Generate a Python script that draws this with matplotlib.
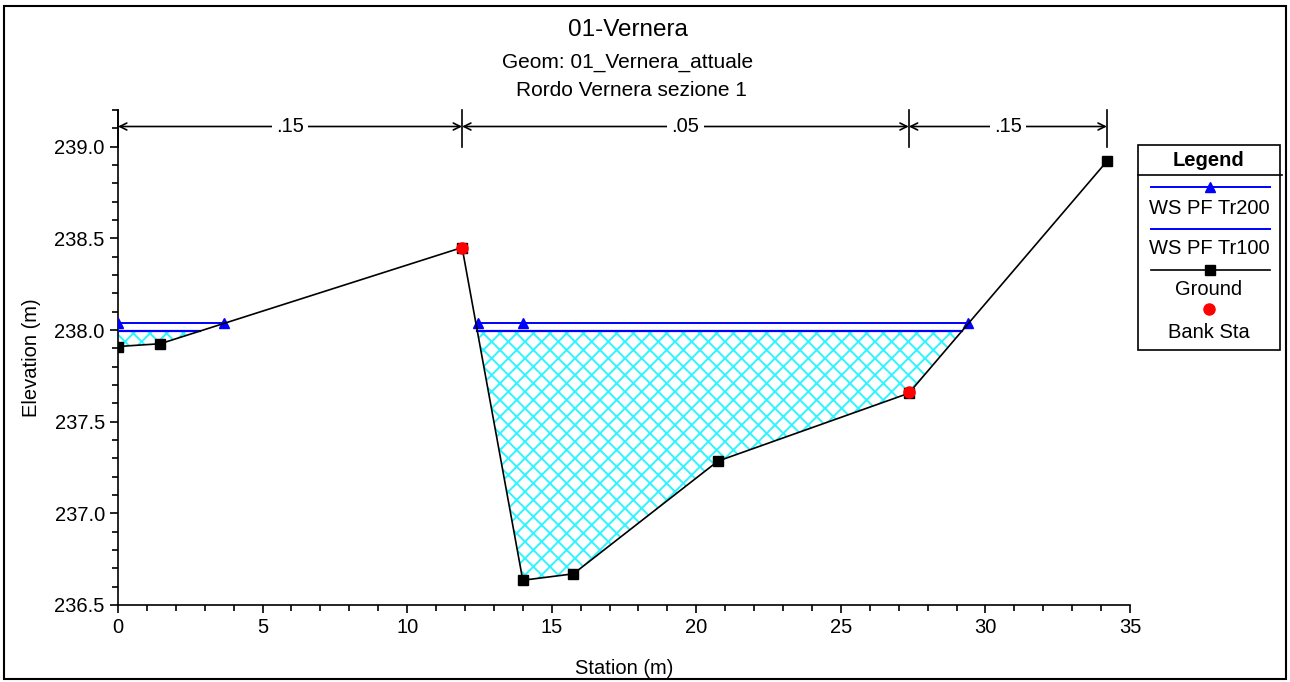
import numpy as np
import matplotlib.pyplot as plt
from matplotlib.lines import Line2D
from matplotlib.patches import Rectangle
from matplotlib.ticker import MultipleLocator, FormatStrFormatter

plt.rcParams['font.family'] = ['Liberation Sans', 'DejaVu Sans']
plt.rcParams['hatch.linewidth'] = 1.4

# ground profile
ground_x = [0.0, 1.46, 11.9, 14.0, 15.75, 20.75, 27.35, 34.2]
ground_y = [237.91, 237.925, 238.45, 236.635, 236.67, 237.285, 237.655, 238.92]

# bank stations
bank_x = [11.9, 27.35]
bank_y = [238.45, 237.66]

# water surfaces
ws200_x = [0.0, 3.67, np.nan, 12.46, 14.0, 29.41]
ws200_el = 238.04
ws100_el = 237.995

# manning's n
n_bounds = [0.0, 11.9, 27.35, 34.2]
n_vals = ['.15', '.05', '.15']

titles = ['01-Vernera', 'Geom: 01_Vernera_attuale', 'Rordo Vernera sezione 1']


def wet_segments(xs, ys, el):
    # stretches where the ground is below the water level
    segs = []
    start = xs[0] if ys[0] < el else None
    for i in range(len(xs) - 1):
        x0, x1, y0, y1 = xs[i], xs[i + 1], ys[i], ys[i + 1]
        if (y0 - el) * (y1 - el) < 0:
            xc = x0 + (el - y0) * (x1 - x0) / (y1 - y0)
            if start is None:
                start = xc
            else:
                segs.append((start, xc))
                start = None
    if start is not None:
        segs.append((start, xs[-1]))
    return segs


W, H = 1290, 682
fig = plt.figure(figsize=(W / 100, H / 100), dpi=100)
ax = fig.add_axes([118 / W, 1 - 605 / H, (1130 - 118) / W, (605 - 110) / H])

# hatched water area
gx = np.array(ground_x)
gy = np.array(ground_y)
fx = np.linspace(gx[0], gx[-1], 2000)
fy = np.interp(fx, gx, gy)
ax.fill_between(fx, fy, ws100_el, where=fy < ws100_el, interpolate=True,
                facecolor='none', edgecolor='#30f4ff', hatch='xx', linewidth=0)

# WS Tr100
for a, b in wet_segments(ground_x, ground_y, ws100_el):
    ax.plot([a, b], [ws100_el, ws100_el], color='blue', lw=1.6, zorder=3)

# WS Tr200
ax.plot(ws200_x, [ws200_el] * len(ws200_x), color='blue', lw=1.4,
        marker='^', ms=7, zorder=3)

# ground
ax.plot(ground_x, ground_y, color='black', lw=1.2, marker='s', ms=7, zorder=4)

# bank stations
ax.plot(bank_x, bank_y, ls='none', marker='o', color='red', ms=8, zorder=5)

# manning's n bars
ny = 239.11
for xb in n_bounds:
    ax.plot([xb, xb], [239.0, 239.2], color='black', lw=1.2, clip_on=False)
for i, lab in enumerate(n_vals):
    a, b = n_bounds[i], n_bounds[i + 1]
    ax.annotate('', xy=(b, ny), xytext=(a, ny),
                arrowprops=dict(arrowstyle='<->,head_length=0.5,head_width=0.25',
                                color='black', lw=1.2, shrinkA=0, shrinkB=0),
                annotation_clip=False)
    ax.text((a + b) / 2, ny, lab, ha='center', va='center', fontsize=14.5,
            bbox=dict(facecolor='white', edgecolor='none', pad=3))

ax.set_xlim(0, 35)
ax.set_ylim(236.5, 239.2)
ax.xaxis.set_major_locator(MultipleLocator(5))
ax.xaxis.set_minor_locator(MultipleLocator(1))
ax.yaxis.set_major_locator(MultipleLocator(0.5))
ax.yaxis.set_minor_locator(MultipleLocator(0.1))
ax.yaxis.set_major_formatter(FormatStrFormatter('%.1f'))
ax.spines['top'].set_visible(False)
ax.spines['right'].set_visible(False)
ax.spines['left'].set_linewidth(1.2)
ax.spines['bottom'].set_linewidth(1.2)
ax.tick_params(which='major', direction='out', length=6, width=1.2,
               labelsize=14.5)
ax.tick_params(which='minor', direction='out', length=4, width=1.2)
ax.set_xlabel('Station (m)', fontsize=14.5, labelpad=16)
ax.set_ylabel('Elevation (m)', fontsize=14.5, labelpad=10)

# titles
cx = 0.5 * (118 + 1130) / W
fig.text(cx + 0.003, 1 - 30 / H, titles[0], ha='center', va='center', fontsize=17.5)
fig.text(cx + 0.003, 1 - 62 / H, titles[1], ha='center', va='center', fontsize=15)
fig.text(cx + 0.006, 1 - 91 / H, titles[2], ha='center', va='center', fontsize=15)

# legend drawn by hand
def fx_(px):
    return px / W


def fy_(py):
    return 1 - py / H


fig.patches.append(Rectangle((fx_(1138), fy_(350)), fx_(1280) - fx_(1138),
                             fy_(145) - fy_(350), transform=fig.transFigure,
                             facecolor='white', edgecolor='black', lw=1.2))
fig.lines.append(Line2D([fx_(1138), fx_(1282)], [fy_(175), fy_(175)],
                        transform=fig.transFigure, color='black', lw=1.2))
fig.text(fx_(1209), fy_(160), 'Legend', ha='center', va='center',
         fontsize=14.5, fontweight='bold')
lx = [fx_(1151), fx_(1270)]
fig.lines.append(Line2D(lx, [fy_(187)] * 2, transform=fig.transFigure,
                        color='blue', lw=1.4))
fig.lines.append(Line2D([fx_(1210)], [fy_(187)], transform=fig.transFigure,
                        color='blue', marker='^', ms=7))
fig.text(fx_(1209), fy_(209), 'WS PF Tr200', ha='center', va='center', fontsize=14.5)
fig.lines.append(Line2D(lx, [fy_(229)] * 2, transform=fig.transFigure,
                        color='blue', lw=1.4))
fig.text(fx_(1209), fy_(249), 'WS PF Tr100', ha='center', va='center', fontsize=14.5)
fig.lines.append(Line2D(lx, [fy_(270)] * 2, transform=fig.transFigure,
                        color='black', lw=1.2))
fig.lines.append(Line2D([fx_(1210)], [fy_(270)], transform=fig.transFigure,
                        color='black', marker='s', ms=7))
fig.text(fx_(1209), fy_(289), 'Ground', ha='center', va='center', fontsize=14.5)
fig.lines.append(Line2D([fx_(1209)], [fy_(309)], transform=fig.transFigure,
                        color='red', marker='o', ms=8))
fig.text(fx_(1209), fy_(332), 'Bank Sta', ha='center', va='center', fontsize=14.5)

# outer frame
fig.patches.append(Rectangle((fx_(4), fy_(679)), fx_(1286) - fx_(4),
                             fy_(6) - fy_(679), transform=fig.transFigure,
                             facecolor='none', edgecolor='black', lw=1.5))

fig.savefig('out.png', dpi=100)
